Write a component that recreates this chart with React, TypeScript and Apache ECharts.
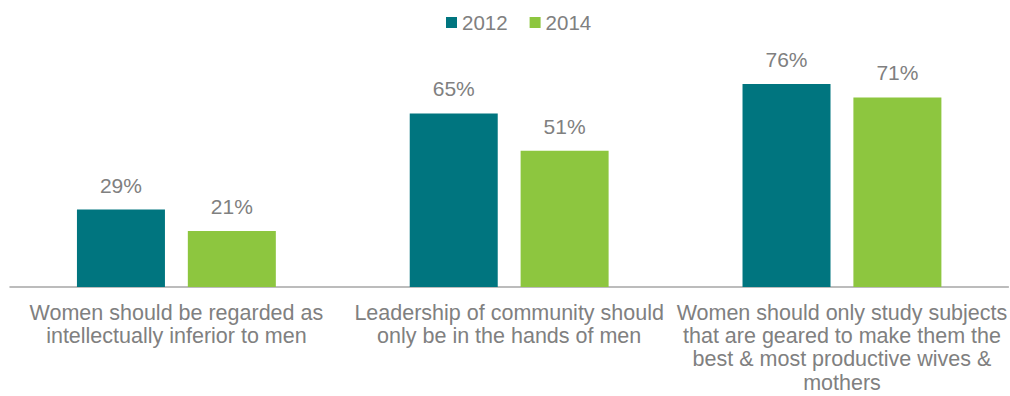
import React, { useEffect, useRef } from "react";
import * as echarts from "echarts";

const categories = [
  "Women should be regarded as\nintellectually inferior to men",
  "Leadership of community should\nonly be in the hands of men",
  "Women should only study subjects\nthat are geared to make them the\nbest & most productive wives &\nmothers",
];
const values2012 = [29, 65, 76];
const values2014 = [21, 51, 71];
const seriesNames = ["2012", "2014"];

const FONT = "'Liberation Sans', Arial, sans-serif";
const TEXT = "#808080";

export default function App() {
  const ref = useRef<HTMLDivElement>(null);
  useEffect(() => {
    if (!ref.current) return;
    const chart = echarts.init(ref.current, null, { renderer: "svg" });
    const label = {
      show: true,
      position: "top",
      distance: 14,
      formatter: "{c}%",
      color: TEXT,
      fontSize: 21,
      fontFamily: FONT,
    };
    chart.setOption({
      animation: false,
      textStyle: { fontFamily: FONT },
      legend: {
        top: 7,
        left: 441,
        itemWidth: 11,
        itemHeight: 11,
        itemGap: 22,
        icon: "rect",
        textStyle: { color: TEXT, fontSize: 20.5, fontFamily: FONT },
        data: seriesNames,
      },
      grid: { left: 10, right: 0, top: 20, bottom: 109 },
      xAxis: {
        type: "category",
        data: categories,
        axisLine: { lineStyle: { color: "#a6a6a6", width: 1.5 } },
        axisTick: { show: false },
        axisLabel: {
          interval: 0,
          margin: 14,
          color: TEXT,
          fontSize: 21.5,
          lineHeight: 23.3,
          fontFamily: FONT,
        },
      },
      yAxis: {
        type: "value",
        min: 0,
        max: 100,
        show: false,
        splitLine: { show: false },
      },
      series: [
        {
          name: seriesNames[0],
          type: "bar",
          data: values2012,
          barWidth: 88,
          barGap: "26%",
          itemStyle: { color: "#00757F" },
          label,
        },
        {
          name: seriesNames[1],
          type: "bar",
          data: values2014,
          barWidth: 88,
          barGap: "26%",
          itemStyle: { color: "#8DC63F" },
          label,
        },
      ],
    });
    return () => chart.dispose();
  }, []);
  return (
    <div
      ref={ref}
      style={{ position: "fixed", left: 0, top: 0, width: 1010, height: 396, background: "#fff" }}
    />
  );
}
